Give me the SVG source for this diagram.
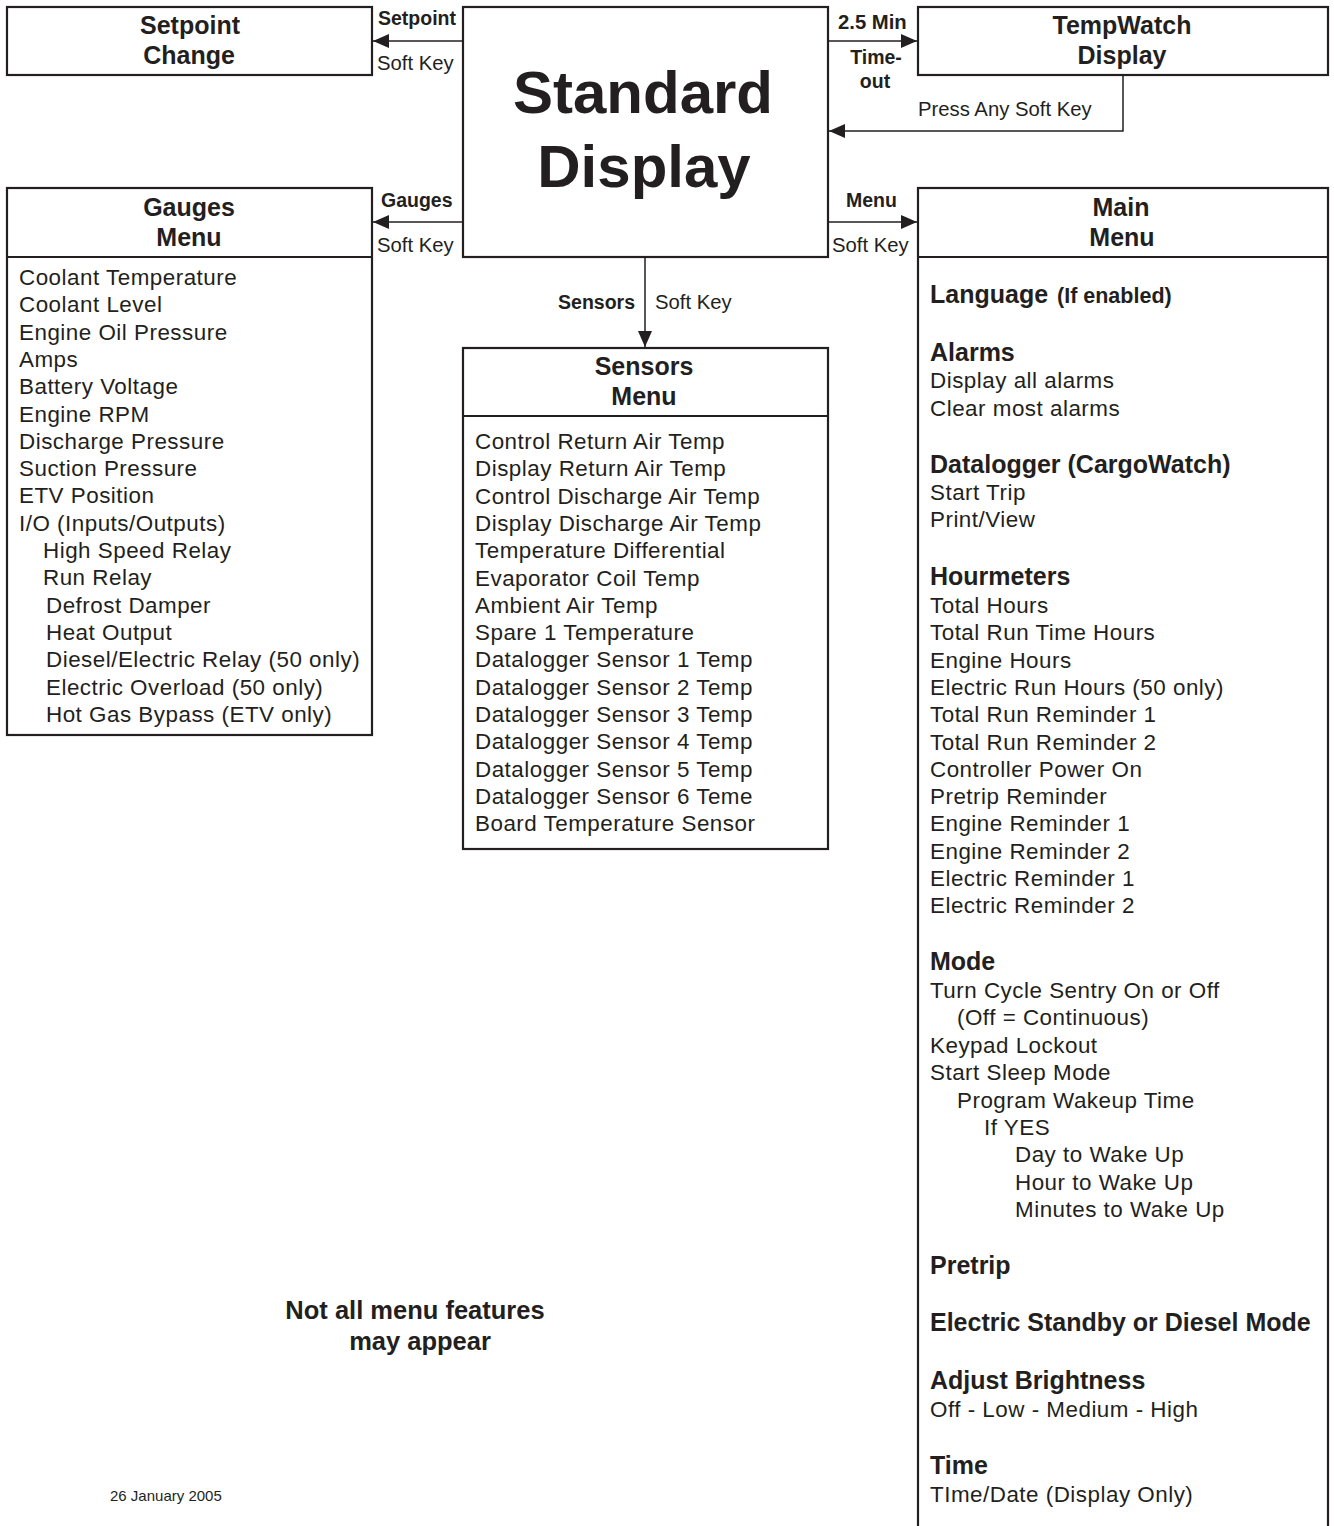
<svg xmlns="http://www.w3.org/2000/svg" width="1334" height="1526" viewBox="0 0 1334 1526">
<defs>
<style>
.box{fill:#fff;stroke:#231f20;stroke-width:2.2}
.div{stroke:#231f20;stroke-width:2.2}
.con{fill:none;stroke:#231f20;stroke-width:1.5}
text{font-family:"Liberation Sans",Arial,sans-serif;fill:#231f20}
.title{font-size:25px;font-weight:bold;text-anchor:middle}
.big{font-size:60px;font-weight:bold;text-anchor:middle}
.lb{font-size:19.5px;font-weight:bold}
.lr{font-size:20.3px}
.it{font-size:22.4px;letter-spacing:0.5px}
.hd{font-size:25px;font-weight:bold}
.note{font-size:25.5px;font-weight:bold;text-anchor:middle}
.date{font-size:15px}
</style>
<marker id="ah" markerUnits="userSpaceOnUse" markerWidth="18" markerHeight="14" refX="16" refY="7" orient="auto">
<path d="M0,0 L16,7 L0,14 Z" fill="#231f20"/>
</marker>
</defs>
<rect width="1334" height="1526" fill="#fff"/>

<g id="connectors">
<line class="con" x1="463" y1="41" x2="373" y2="41" marker-end="url(#ah)"/>
<line class="con" x1="463" y1="222" x2="373" y2="222" marker-end="url(#ah)"/>
<line class="con" x1="828" y1="41" x2="917" y2="41" marker-end="url(#ah)"/>
<path class="con" d="M1123,75 V131 H829" marker-end="url(#ah)"/>
<line class="con" x1="828" y1="222" x2="917" y2="222" marker-end="url(#ah)"/>
<line class="con" x1="645" y1="257" x2="645" y2="347" marker-end="url(#ah)"/>
<text class="lb" x="378" y="25">Setpoint</text>
<text class="lr" x="377" y="70">Soft Key</text>
<text class="lb" x="381" y="207">Gauges</text>
<text class="lr" x="377" y="252">Soft Key</text>
<text class="lr" x="838" y="29" font-weight="bold" font-size="19.5px">2.5 Min</text>
<text class="lb" x="876" y="64" text-anchor="middle">Time-</text>
<text class="lb" x="875" y="88" text-anchor="middle">out</text>
<text class="lr" x="918" y="116" font-size="20.8px">Press Any Soft Key</text>
<text class="lb" x="846" y="207">Menu</text>
<text class="lr" x="832" y="252">Soft Key</text>
<text class="lb" x="635" y="309" text-anchor="end">Sensors</text>
<text class="lr" x="655" y="309">Soft Key</text>
</g>

<g id="setpoint-change">
<rect class="box" x="7" y="7" width="365" height="68"/>
<text class="title" x="190" y="34">Setpoint</text>
<text class="title" x="189" y="64">Change</text>
</g>

<g id="standard-display">
<rect class="box" x="463" y="7" width="365" height="250"/>
<text class="big" x="643" y="113">Standard</text>
<text class="big" x="644" y="187">Display</text>
</g>

<g id="tempwatch-display">
<rect class="box" x="918" y="7" width="410" height="68"/>
<text class="title" x="1122" y="34">TempWatch</text>
<text class="title" x="1122" y="64">Display</text>
</g>

<g id="gauges-menu">
<rect class="box" x="7" y="188" width="365" height="547"/>
<line class="div" x1="7" y1="257" x2="372" y2="257"/>
<text class="title" x="189" y="216">Gauges</text>
<text class="title" x="189" y="246">Menu</text>
<text class="it" x="19" y="285">Coolant Temperature</text>
<text class="it" x="19" y="312.3">Coolant Level</text>
<text class="it" x="19" y="339.6">Engine Oil Pressure</text>
<text class="it" x="19" y="366.9">Amps</text>
<text class="it" x="19" y="394.2">Battery Voltage</text>
<text class="it" x="19" y="421.5">Engine RPM</text>
<text class="it" x="19" y="448.8">Discharge Pressure</text>
<text class="it" x="19" y="476.1">Suction Pressure</text>
<text class="it" x="19" y="503.4">ETV Position</text>
<text class="it" x="19" y="530.7">I/O (Inputs/Outputs)</text>
<text class="it" x="43" y="558">High Speed Relay</text>
<text class="it" x="43" y="585.3">Run Relay</text>
<text class="it" x="46" y="612.6">Defrost Damper</text>
<text class="it" x="46" y="639.9">Heat Output</text>
<text class="it" x="46" y="667.2">Diesel/Electric Relay (50 only)</text>
<text class="it" x="46" y="694.5">Electric Overload (50 only)</text>
<text class="it" x="46" y="721.8">Hot Gas Bypass (ETV only)</text>
</g>

<g id="sensors-menu">
<rect class="box" x="463" y="348" width="365" height="501"/>
<line class="div" x1="463" y1="416" x2="828" y2="416"/>
<text class="title" x="644" y="375">Sensors</text>
<text class="title" x="644" y="405">Menu</text>
<text class="it" x="475" y="449">Control Return Air Temp</text>
<text class="it" x="475" y="476.3">Display Return Air Temp</text>
<text class="it" x="475" y="503.6">Control Discharge Air Temp</text>
<text class="it" x="475" y="530.9">Display Discharge Air Temp</text>
<text class="it" x="475" y="558.2">Temperature Differential</text>
<text class="it" x="475" y="585.5">Evaporator Coil Temp</text>
<text class="it" x="475" y="612.8">Ambient Air Temp</text>
<text class="it" x="475" y="640.1">Spare 1 Temperature</text>
<text class="it" x="475" y="667.4">Datalogger Sensor 1 Temp</text>
<text class="it" x="475" y="694.7">Datalogger Sensor 2 Temp</text>
<text class="it" x="475" y="722">Datalogger Sensor 3 Temp</text>
<text class="it" x="475" y="749.3">Datalogger Sensor 4 Temp</text>
<text class="it" x="475" y="776.6">Datalogger Sensor 5 Temp</text>
<text class="it" x="475" y="803.9">Datalogger Sensor 6 Teme</text>
<text class="it" x="475" y="831.2">Board Temperature Sensor</text>
</g>

<g id="main-menu">
<rect class="box" x="918" y="188" width="410" height="1360"/>
<line class="div" x1="918" y1="257" x2="1328" y2="257"/>
<text class="title" x="1121" y="216">Main</text>
<text class="title" x="1122" y="246">Menu</text>
<text class="hd" x="930" y="303">Language <tspan x="1057" font-size="21.5px">(If enabled)</tspan></text>
<text class="hd" x="930" y="361">Alarms</text>
<text class="it" x="930" y="388">Display all alarms</text>
<text class="it" x="930" y="416">Clear most alarms</text>
<text class="hd" x="930" y="473">Datalogger (CargoWatch)</text>
<text class="it" x="930" y="500">Start Trip</text>
<text class="it" x="930" y="527">Print/View</text>
<text class="hd" x="930" y="585">Hourmeters</text>
<text class="it" x="930" y="613">Total Hours</text>
<text class="it" x="930" y="640.3">Total Run Time Hours</text>
<text class="it" x="930" y="667.6">Engine Hours</text>
<text class="it" x="930" y="694.9">Electric Run Hours (50 only)</text>
<text class="it" x="930" y="722.2">Total Run Reminder 1</text>
<text class="it" x="930" y="749.5">Total Run Reminder 2</text>
<text class="it" x="930" y="776.8">Controller Power On</text>
<text class="it" x="930" y="804.1">Pretrip Reminder</text>
<text class="it" x="930" y="831.4">Engine Reminder 1</text>
<text class="it" x="930" y="858.7">Engine Reminder 2</text>
<text class="it" x="930" y="886">Electric Reminder 1</text>
<text class="it" x="930" y="913.3">Electric Reminder 2</text>
<text class="hd" x="930" y="970">Mode</text>
<text class="it" x="930" y="998">Turn Cycle Sentry On or Off</text>
<text class="it" x="957" y="1025.4">(Off = Continuous)</text>
<text class="it" x="930" y="1052.8">Keypad Lockout</text>
<text class="it" x="930" y="1080.2">Start Sleep Mode</text>
<text class="it" x="957" y="1107.6">Program Wakeup Time</text>
<text class="it" x="984" y="1135">If YES</text>
<text class="it" x="1015" y="1162.4">Day to Wake Up</text>
<text class="it" x="1015" y="1189.8">Hour to Wake Up</text>
<text class="it" x="1015" y="1217.2">Minutes to Wake Up</text>
<text class="hd" x="930" y="1274">Pretrip</text>
<text class="hd" x="930" y="1331">Electric Standby or Diesel Mode</text>
<text class="hd" x="930" y="1389">Adjust Brightness</text>
<text class="it" x="930" y="1417">Off - Low - Medium - High</text>
<text class="hd" x="930" y="1474">Time</text>
<text class="it" x="930" y="1502">TIme/Date (Display Only)</text>
</g>

<g id="notes">
<text class="note" x="415" y="1319">Not all menu features</text>
<text class="note" x="420" y="1350">may appear</text>
<text class="date" x="110" y="1501">26 January 2005</text>
</g>
</svg>
